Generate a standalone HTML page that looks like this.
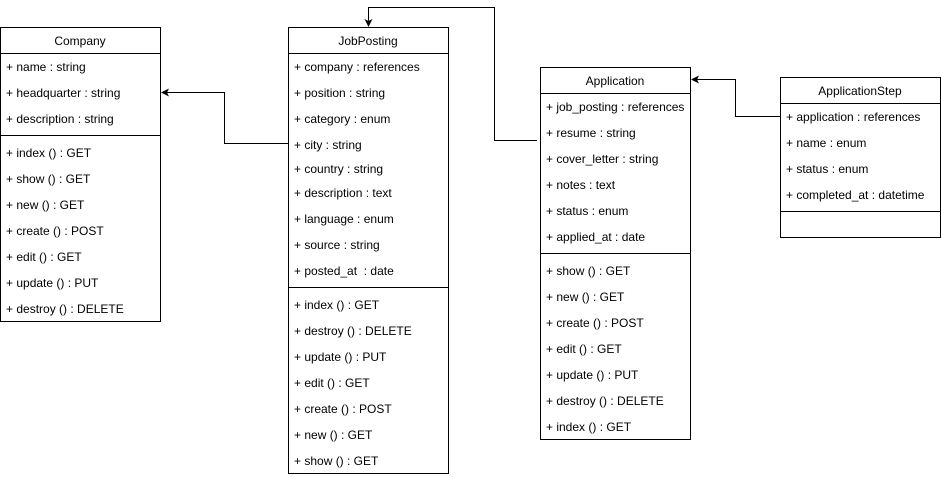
<!DOCTYPE html>
<html><head><meta charset="utf-8"><style>
html,body{margin:0;padding:0;background:#fff;width:941px;height:477px;overflow:hidden}
svg text{font-family:"Liberation Sans",sans-serif;font-size:12px;fill:#000}
</style></head><body>
<svg width="941" height="477" xmlns="http://www.w3.org/2000/svg">
<g fill="none" stroke="#000" stroke-width="1">
<!-- Company -->
<rect x="0.5" y="27.5" width="160" height="294"/>
<line x1="0.5" y1="53.5" x2="160.5" y2="53.5"/>
<line x1="0.5" y1="135.5" x2="160.5" y2="135.5"/>
<!-- JobPosting -->
<rect x="288.5" y="27.5" width="160" height="446"/>
<line x1="288.5" y1="53.5" x2="448.5" y2="53.5"/>
<line x1="288.5" y1="287.5" x2="448.5" y2="287.5"/>
<!-- Application -->
<rect x="540.5" y="67.5" width="150" height="372"/>
<line x1="540.5" y1="93.5" x2="690.5" y2="93.5"/>
<line x1="540.5" y1="253.5" x2="690.5" y2="253.5"/>
<!-- ApplicationStep -->
<rect x="780.5" y="77.5" width="160" height="160"/>
<line x1="780.5" y1="103.5" x2="940.5" y2="103.5"/>
<line x1="780.5" y1="211.5" x2="940.5" y2="211.5"/>
<!-- connectors -->
<polyline points="288,143.5 224.5,143.5 224.5,92.5 166,92.5"/>
<polyline points="537,140.5 494.5,140.5 494.5,7.5 368.5,7.5 368.5,21"/>
<polyline points="780,116.5 735.5,116.5 735.5,79.5 697,79.5"/>
</g>
<g fill="#000">
<polygon points="161,92.5 169,88.5 167,92.5 169,96.5"/>
<polygon points="368.5,27 364.5,19 368.5,21 372.5,19"/>
<polygon points="691,79.5 699,75.5 697,79.5 699,83.5"/>
</g>
<g dominant-baseline="central">
<text x="80" y="41" text-anchor="middle">Company</text>
<text x="6" y="67">+ name : string</text>
<text x="6" y="93">+ headquarter : string</text>
<text x="6" y="119">+ description : string</text>
<text x="6" y="153">+ index () : GET</text>
<text x="6" y="179">+ show () : GET</text>
<text x="6" y="205">+ new () : GET</text>
<text x="6" y="231">+ create () : POST</text>
<text x="6" y="257">+ edit () : GET</text>
<text x="6" y="283">+ update () : PUT</text>
<text x="6" y="309">+ destroy () : DELETE</text>

<text x="368" y="41" text-anchor="middle">JobPosting</text>
<text x="294" y="67">+ company : references</text>
<text x="294" y="93">+ position : string</text>
<text x="294" y="119">+ category : enum</text>
<text x="294" y="145">+ city : string</text>
<text x="294" y="169">+ country : string</text>
<text x="294" y="193">+ description : text</text>
<text x="294" y="219">+ language : enum</text>
<text x="294" y="245">+ source : string</text>
<text x="294" y="271" xml:space="preserve">+ posted_at  : date</text>
<text x="294" y="305">+ index () : GET</text>
<text x="294" y="331">+ destroy () : DELETE</text>
<text x="294" y="357">+ update () : PUT</text>
<text x="294" y="383">+ edit () : GET</text>
<text x="294" y="409">+ create () : POST</text>
<text x="294" y="435">+ new () : GET</text>
<text x="294" y="461">+ show () : GET</text>

<text x="615" y="81" text-anchor="middle">Application</text>
<text x="546" y="107">+ job_posting : references</text>
<text x="546" y="133">+ resume : string</text>
<text x="546" y="159">+ cover_letter : string</text>
<text x="546" y="185">+ notes : text</text>
<text x="546" y="211">+ status : enum</text>
<text x="546" y="237">+ applied_at : date</text>
<text x="546" y="271">+ show () : GET</text>
<text x="546" y="297">+ new () : GET</text>
<text x="546" y="323">+ create () : POST</text>
<text x="546" y="349">+ edit () : GET</text>
<text x="546" y="375">+ update () : PUT</text>
<text x="546" y="401">+ destroy () : DELETE</text>
<text x="546" y="427">+ index () : GET</text>

<text x="860" y="91" text-anchor="middle">ApplicationStep</text>
<text x="786" y="117">+ application : references</text>
<text x="786" y="143">+ name : enum</text>
<text x="786" y="169">+ status : enum</text>
<text x="786" y="195">+ completed_at : datetime</text>
</g>
</svg>
</body></html>
